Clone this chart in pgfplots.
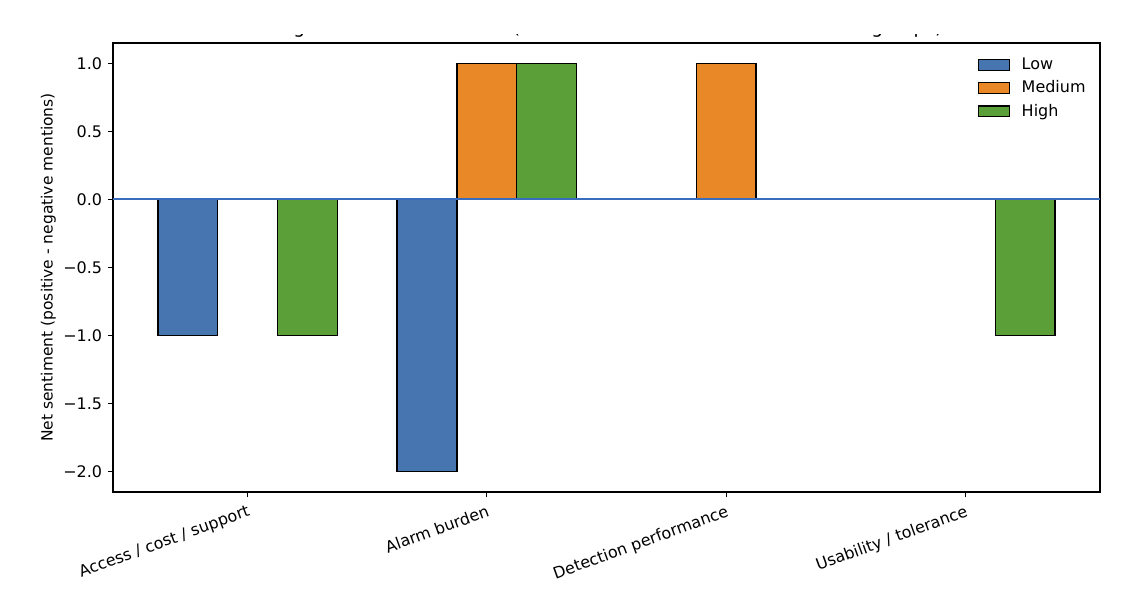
\documentclass[border=0pt]{standalone}
\usepackage{fontspec}
\setmainfont{DejaVu Sans}
\usepackage{pgfplots}
\pgfplotsset{compat=1.18}

\definecolor{lowc}{RGB}{70,117,176}
\definecolor{medc}{RGB}{232,136,38}
\definecolor{highc}{RGB}{90,159,56}
\definecolor{zeroc}{RGB}{58,108,190}

\pgfplotsset{
    mybar/.style={ybar, bar width=0.25, bar shift=0pt, draw=black, line width=0.9pt,
        legend image code/.code={\draw[##1, draw=black, line width=0.9pt] (0pt,-3.5pt) rectangle (20pt,3.5pt);
            \path[draw=none, fill=none] (0pt,0pt) rectangle (25.8pt,0.1pt);}},
}

\begin{document}
\begin{tikzpicture}
\useasboundingbox (0,0) rectangle (734.2pt,387.1pt);
\begin{axis}[
    at={(72.9pt,69.7pt)}, anchor=south west,
    scale only axis,
    width=636.8pt, height=289.7pt,
    xmin=-0.5625, xmax=3.5625,
    ymin=-2.15, ymax=1.15,
    xtick={0,1,2,3},
    xticklabels={Access / cost / support, Alarm burden, Detection performance, Usability / tolerance},
    x tick label style={rotate=20, anchor=north east, inner sep=2pt, yshift=-2pt},
    ytick={-2,-1.5,-1,-0.5,0,0.5,1},
    yticklabels={−2.0,−1.5,−1.0,−0.5,0.0,0.5,1.0},
    tick label style={font=\fontsize{10.3}{12}\selectfont},
    tick align=outside,
    xtick pos=bottom, ytick pos=left,
    major tick length=3.5pt,
    every tick/.style={black, line width=0.8pt},
    axis line style={line width=0.8pt},
    ylabel={Net sentiment (positive - negative mentions)},
    ylabel style={font=\fontsize{10}{12}\selectfont, yshift=-2pt},
    legend style={draw=none, fill=none, at={(0.876,0.974)}, anchor=north west,
        font=\fontsize{10.3}{12}\selectfont, row sep=1.7pt, inner sep=0pt},
    legend cell align=left,
]
\addplot[mybar, fill=lowc] coordinates {(-0.25,-1) (0.75,-2)};
\addplot[mybar, fill=medc] coordinates {(1,1) (2,1)};
\addplot[mybar, fill=highc] coordinates {(0.25,-1) (1.25,1) (3.25,-1)};
\addplot[draw=zeroc, color=zeroc, mark=none, line width=1.2pt, forget plot]
    coordinates {(-0.5625,0) (3.5625,0)};
\legend{Low, Medium, High}
\end{axis}
\begin{scope}
\clip (0pt,355pt) rectangle (734.2pt,364.7pt);
\node[anchor=base, font=\fontsize{12}{14}\selectfont] at (391.3pt,365.5pt)
    {Avg net sentiment scores (theme mentions across tolerance subgroups)};
\end{scope}
\end{tikzpicture}
\end{document}
